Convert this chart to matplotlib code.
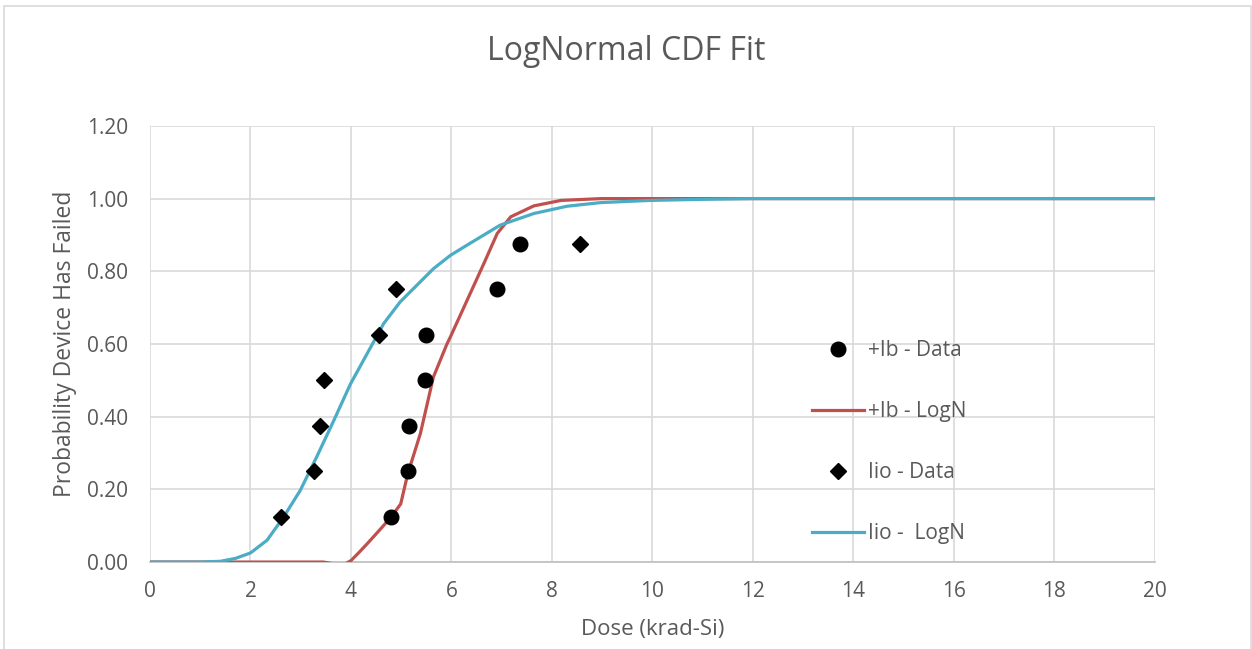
import matplotlib.pyplot as plt
from matplotlib.patches import Rectangle

plt.rcParams['font.family'] = ['Open Sans', 'DejaVu Sans']

# measured data
ib_dose = [4.80, 5.13, 5.15, 5.48, 5.50, 6.91, 7.36]
ib_prob = [0.125, 0.25, 0.375, 0.50, 0.625, 0.75, 0.875]
iio_dose = [2.60, 3.26, 3.39, 3.47, 4.56, 4.89, 8.55]
iio_prob = [0.125, 0.25, 0.375, 0.50, 0.625, 0.75, 0.875]

# lognormal fit curves
ib_fit_x = [0, 1, 2, 3, 3.45, 3.62, 3.78, 3.90, 4.0, 4.15, 4.32, 4.55, 4.80, 4.99, 5.13, 5.38,
            5.64, 5.91, 5.98, 6.31, 6.64, 6.91, 7.18, 7.64, 8.18, 8.98, 10, 12, 14, 16, 18, 20]
ib_fit_y = [0, 0, 0, 0, 0, -0.004, -0.007, -0.004, 0.004, 0.025, 0.05, 0.085, 0.124, 0.16,
            0.243, 0.353, 0.509, 0.60, 0.62, 0.72, 0.82, 0.904, 0.95, 0.98, 0.995, 1.0, 1.0,
            1.0, 1.0, 1.0, 1.0, 1.0]
iio_fit_x = [0, 1, 1.4, 1.7, 2.0, 2.33, 2.66, 2.99, 3.32, 3.66, 3.99, 4.32, 4.65, 4.98, 5.64,
             5.98, 6.31, 6.97, 7.64, 8.30, 8.97, 9.96, 11, 12, 14, 16, 18, 20]
iio_fit_y = [0, 0, 0.002, 0.01, 0.025, 0.06, 0.124, 0.197, 0.29, 0.39, 0.49, 0.573, 0.656, 0.716,
             0.807, 0.844, 0.872, 0.927, 0.959, 0.979, 0.989, 0.995, 0.998, 1.0, 1.0, 1.0, 1.0, 1.0]

xticks = list(range(0, 21, 2))
yticks = [0, 0.2, 0.4, 0.6, 0.8, 1.0, 1.2]

red = '#C0504D'
blue = '#4BACC6'
grey = '#595959'

fig = plt.figure(figsize=(12.52, 6.49), dpi=100)
fig.patches.append(Rectangle((0.003, -0.01), 0.996, 1.0, transform=fig.transFigure,
                             fill=False, edgecolor='#d9d9d9', linewidth=1.2))
ax = fig.add_axes([0.1198, 0.134, 0.8027, 0.672])

ax.plot(ib_dose, ib_prob, 'o', color='black', markersize=10.5, label='+Ib - Data', zorder=5)
ax.plot(ib_fit_x, ib_fit_y, '-', color=red, linewidth=2.3, label='+Ib - LogN', zorder=3)
ax.plot(iio_dose, iio_prob, 'D', color='black', markersize=8, label='Iio - Data', zorder=5)
ax.plot(iio_fit_x, iio_fit_y, '-', color=blue, linewidth=2.3, label='Iio -  LogN', zorder=4)

ax.set_xlim(0, 20)
ax.set_ylim(0, 1.2)
ax.set_xticks(xticks)
ax.set_yticks(yticks)
ax.set_yticklabels([f'{v:.2f}' for v in yticks])
ax.grid(True, color='#d9d9d9', linewidth=1.2)
ax.set_axisbelow(True)
for s in ['top', 'right', 'left']:
    ax.spines[s].set_visible(False)
ax.spines['bottom'].set_color('#bfbfbf')
ax.spines['bottom'].set_linewidth(1.2)
ax.tick_params(length=0, labelsize=15, labelcolor=grey)
ax.tick_params(axis='y', pad=16)
ax.tick_params(axis='x', pad=14)

ax.set_xlabel('Dose (krad-Si)', fontsize=16, color=grey)
ax.xaxis.set_label_coords(0.5, -0.130)
ax.set_ylabel('Probability Device Has Failed', fontsize=16.5, color=grey)
ax.yaxis.set_label_coords(-0.073, 0.5)
fig.suptitle('LogNormal CDF Fit', fontsize=23, color=grey, y=0.921, va='center')

leg = ax.legend(loc='center left', bbox_to_anchor=(0.640, 0.275), frameon=False,
                fontsize=15, labelcolor=grey, handlelength=2.5, labelspacing=1.92,
                handletextpad=0.2)

fig.savefig('out.png', dpi=100)
